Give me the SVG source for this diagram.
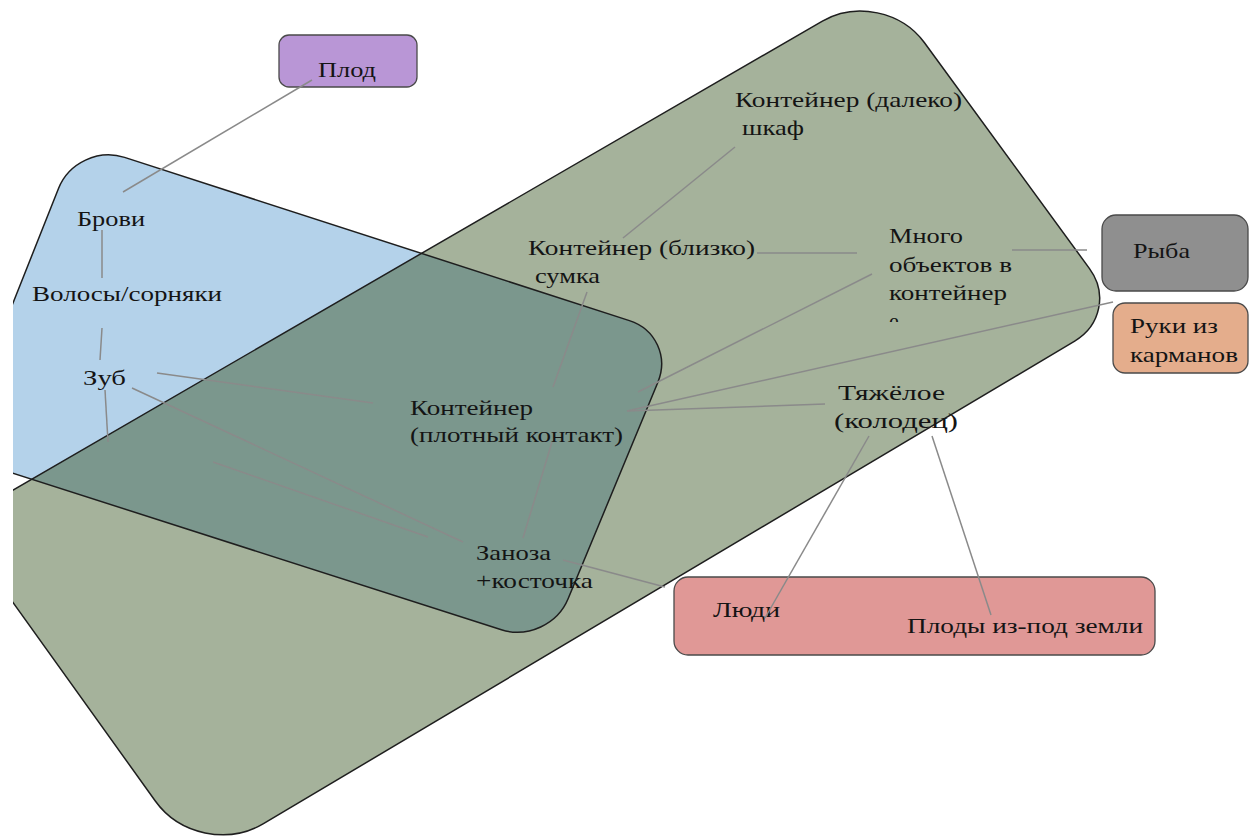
<svg xmlns="http://www.w3.org/2000/svg" width="1250" height="836" viewBox="0 0 1250 836">
<defs>
<style>
.t{font-family:"Liberation Serif","DejaVu Serif","Noto Serif",serif;font-size:22px;fill:#141414}
.conn line{stroke:#8a8a8a;stroke-width:1.5;fill:none}
.edge{stroke:#1e1e1e;stroke-width:1.5;fill:none}
.box{stroke:#4a4a4a;stroke-width:1.3}
</style>
<path id="greenP" d="M-18,508 L822.4,21.1 C855.8,1.7 901.5,11.4 924.3,42.5 L1089.5,268.6 C1107.5,293.1 1100.9,325.6 1074.7,341.1 L263.5,823.7 C227.9,844.8 179.4,834.7 155.3,801 L-26.5,547.4 C-36.2,533.9 -32.4,516.3 -18,508 Z"/>
<path id="blueP" d="M124.6,157.4 L629.4,320.6 C655.7,329.1 668.4,356.7 657.9,382.2 L568.1,598.8 C557.6,624.3 527.7,638.2 501.4,629.7 L-18.4,463.2 C-34.2,458.1 -42,441.5 -35.9,426.1 L58.5,188.5 C68.7,162.8 98.3,148.9 124.6,157.4 Z"/>
<clipPath id="page"><rect x="13" y="0" width="1237" height="836"/></clipPath>
<clipPath id="inGreen"><use href="#greenP"/></clipPath>
<clipPath id="cutE"><rect x="880" y="300" width="60" height="22"/></clipPath>
</defs>
<rect x="0" y="0" width="1250" height="836" fill="#ffffff"/>

<g id="sets" clip-path="url(#page)">
  <use href="#greenP" fill="#a5b29b"/>
  <use href="#blueP" fill="#b4d2ea"/>
  <g clip-path="url(#inGreen)"><use href="#blueP" fill="#7b978d"/></g>
  <use href="#greenP" class="edge"/>
  <use href="#blueP" class="edge"/>
</g>

<g id="node-plod">
  <rect class="box" x="279" y="35" width="138" height="52" rx="10" fill="#b996d6"/>
  <text class="t" x="318" y="77" textLength="58" lengthAdjust="spacingAndGlyphs" fill="#2a2458">Плод</text>
</g>
<g id="node-ryba">
  <rect class="box" x="1102" y="215" width="146" height="76" rx="14" fill="#8f8f8f"/>
  <text class="t" x="1133" y="258" textLength="57" lengthAdjust="spacingAndGlyphs">Рыба</text>
</g>
<g id="node-ruki">
  <rect class="box" x="1113" y="303" width="135" height="70" rx="12" fill="#e4ad8c"/>
  <text class="t" x="1130" y="333" textLength="88" lengthAdjust="spacingAndGlyphs">Руки из</text>
  <text class="t" x="1130" y="362" textLength="108" lengthAdjust="spacingAndGlyphs">карманов</text>
</g>
<g id="node-lyudi">
  <rect class="box" x="674" y="577" width="481" height="78" rx="14" fill="#e09896"/>
  <text class="t" x="713" y="617" textLength="67" lengthAdjust="spacingAndGlyphs">Люди</text>
  <text class="t" x="907" y="633" textLength="236" lengthAdjust="spacingAndGlyphs">Плоды из-под земли</text>
</g>
<g id="node-brovi"><text class="t" x="77" y="226" textLength="68" lengthAdjust="spacingAndGlyphs">Брови</text></g>
<g id="node-volosy"><text class="t" x="32" y="301" textLength="190" lengthAdjust="spacingAndGlyphs">Волосы/сорняки</text></g>
<g id="node-zub"><text class="t" x="83" y="385" textLength="43" lengthAdjust="spacingAndGlyphs">Зуб</text></g>
<g id="node-daleko">
  <text class="t" x="735" y="107" textLength="227" lengthAdjust="spacingAndGlyphs">Контейнер (далеко)</text>
  <text class="t" x="742" y="135" textLength="62" lengthAdjust="spacingAndGlyphs">шкаф</text>
</g>
<g id="node-blizko">
  <text class="t" x="528" y="255" textLength="227" lengthAdjust="spacingAndGlyphs">Контейнер (близко)</text>
  <text class="t" x="535" y="283" textLength="65" lengthAdjust="spacingAndGlyphs">сумка</text>
</g>
<g id="node-mnogo">
  <text class="t" x="889" y="243" textLength="74" lengthAdjust="spacingAndGlyphs">Много</text>
  <text class="t" x="889" y="272" textLength="123" lengthAdjust="spacingAndGlyphs">объектов в</text>
  <text class="t" x="889" y="300" textLength="118" lengthAdjust="spacingAndGlyphs">контейнер</text>
  <text class="t" x="889" y="328" clip-path="url(#cutE)">е</text>
</g>
<g id="node-plotny">
  <text class="t" x="410" y="415" textLength="123" lengthAdjust="spacingAndGlyphs">Контейнер</text>
  <text class="t" x="410" y="442" textLength="213" lengthAdjust="spacingAndGlyphs">(плотный контакт)</text>
</g>
<g id="node-zanoza">
  <text class="t" x="476" y="560" textLength="75" lengthAdjust="spacingAndGlyphs">Заноза</text>
  <text class="t" x="476" y="588" textLength="117" lengthAdjust="spacingAndGlyphs">+косточка</text>
</g>
<g id="node-tyazh">
  <text class="t" x="838" y="400" textLength="107" lengthAdjust="spacingAndGlyphs">Тяжёлое</text>
  <text class="t" x="834" y="428" textLength="124" lengthAdjust="spacingAndGlyphs">(колодец)</text>
</g>

<g id="connectors" class="conn">
  <line x1="312" y1="80" x2="123" y2="192"/>
  <line x1="102" y1="230" x2="102" y2="278"/>
  <line x1="102" y1="328" x2="100" y2="360"/>
  <line x1="105" y1="390" x2="108" y2="442"/>
  <line x1="157" y1="373" x2="373" y2="403"/>
  <line x1="132" y1="388" x2="463" y2="542"/>
  <line x1="213" y1="462" x2="428" y2="537"/>
  <line x1="587" y1="292" x2="553" y2="387"/>
  <line x1="552" y1="442" x2="523" y2="538"/>
  <line x1="735" y1="147" x2="623" y2="238"/>
  <line x1="757" y1="253" x2="857" y2="253"/>
  <line x1="872" y1="274" x2="638" y2="392"/>
  <line x1="1012" y1="250" x2="1087" y2="250"/>
  <line x1="1113" y1="302" x2="627" y2="411"/>
  <line x1="627" y1="411" x2="825" y2="404"/>
  <line x1="869" y1="436" x2="765" y2="618"/>
  <line x1="932" y1="436" x2="991" y2="615"/>
  <line x1="563" y1="560" x2="665" y2="587"/>
</g>
</svg>
